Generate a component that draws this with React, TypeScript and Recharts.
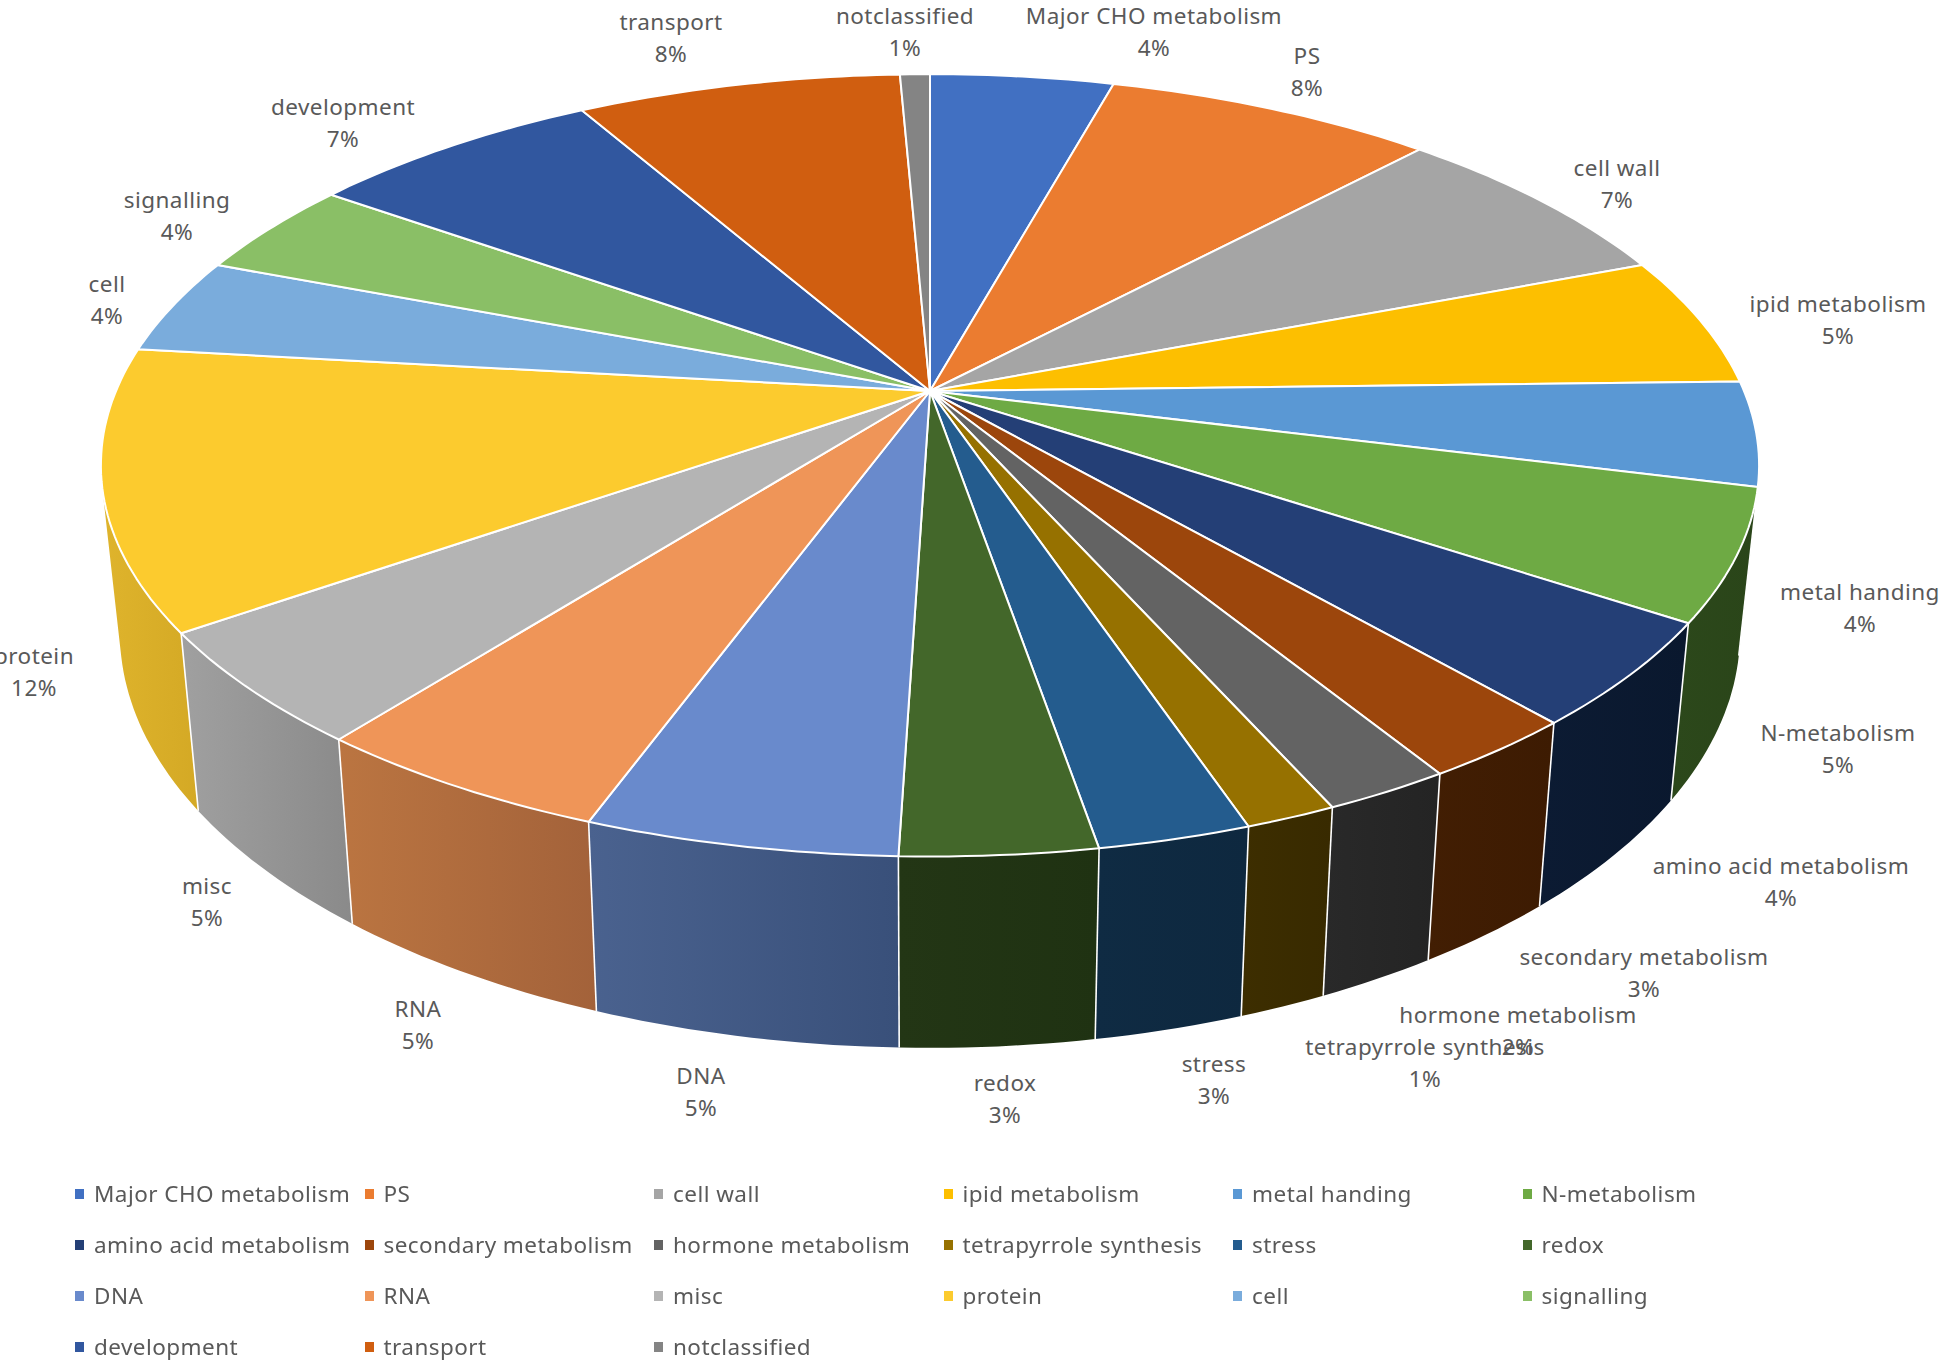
import { PieChart, Pie, Legend } from 'recharts'

const categories = [
  'Major CHO metabolism', 'PS', 'cell wall', 'ipid metabolism', 'metal handing', 'N-metabolism',
  'amino acid metabolism', 'secondary metabolism', 'hormone metabolism', 'tetrapyrrole synthesis', 'stress', 'redox',
  'DNA', 'RNA', 'misc', 'protein', 'cell', 'signalling',
  'development', 'transport', 'notclassified',
]

// slice shares, percent
const shares = [4.3, 7.7, 7.2, 5.4, 4.3, 5.4, 4.3, 2.6, 2.1, 1.5, 2.5, 3.2, 5.1, 5.0, 4.7, 11.5, 4.0, 4.0, 6.9, 7.6, 0.7]

// the percentages as printed on the data labels
const printedPercents = [4, 8, 7, 5, 4, 5, 4, 3, 2, 1, 3, 3, 5, 5, 5, 12, 4, 4, 7, 8, 1]

const topColors = [
  '#4170c2', '#eb7c30', '#a5a5a5', '#fdbf00', '#5a98d4', '#6eaa44',
  '#243f76', '#9c460c', '#636363', '#967100', '#245c8e', '#43672a',
  '#698acc', '#ef9558', '#b4b4b4', '#fccb2e', '#7aacdc', '#8abf66',
  '#31579f', '#d05e10', '#848484',
]

const wallStart = [
  '#2a4578', '#8e4b1e', '#636363', '#997300', '#2c481b', '#2c481b',
  '#0c1b33', '#421e03', '#292929', '#3d2e00', '#0f2b43', '#233615',
  '#4a628f', '#bb7541', '#a0a0a0', '#dfb42c', '#4a6985', '#54743e',
  '#1f3661', '#7e3a0b', '#4f4f4f',
]

const wallEnd = [
  '#2a4578', '#8e4b1e', '#636363', '#997300', '#2c481b', '#2a4519',
  '#0a182e', '#3d1b02', '#242424', '#382a00', '#0e283f', '#1f3212',
  '#39507a', '#a3623a', '#8a8a8a', '#d4a925', '#4a6985', '#54743e',
  '#1f3661', '#7e3a0b', '#4f4f4f',
]

// data label anchors, Excel placed these by hand so they are not on a radius
const labelSpots = [
  [1154, 16], [1307, 56], [1617, 168], [1838, 304], [1860, 592], [1838, 733],
  [1781, 866], [1644, 957], [1518, 1015], [1425, 1047], [1214, 1064], [1005, 1083],
  [701, 1076], [418, 1009], [207, 886], [34, 656], [107, 284], [177, 200],
  [343, 107], [671, 22], [905, 16],
]

const chartData = categories.map((name, i) => ({ name, value: shares[i], fill: topColors[i] }))

const FONT = '"Noto Sans", sans-serif'
const FONT_SIZE = 22.5
const TEXT = '#595959'

// Perspective of the tilted disc: the apex sits above the middle of the ellipse
const TILT = 0.19
const FLATTEN = 0.4632
const FLOOR_X = 0.977
const FLOOR_DROP = 163
const FLOOR_Y = 0.4914

function rimPoint(deg: number, cx: number, cy: number, r: number, floor: boolean) {
  const rad = (deg * Math.PI) / 180
  const x = Math.cos(rad)
  const y = -Math.sin(rad)
  const w = 1 - TILT * y
  const u = x / w
  const v = y / w
  if (floor) return [cx + FLOOR_X * r * u, cy + FLOOR_DROP + FLOOR_Y * r * v]
  return [cx + r * u, cy + FLATTEN * r * v]
}

function arcPoints(p: any, floor: boolean) {
  const pts: number[][] = []
  const steps = Math.max(2, Math.ceil(Math.abs(p.endAngle - p.startAngle)))
  for (let s = 0; s <= steps; s++) {
    const deg = p.startAngle + ((p.endAngle - p.startAngle) * s) / steps
    pts.push(rimPoint(deg, p.cx, p.cy, p.outerRadius, floor))
  }
  return pts
}

const toPath = (pts: number[][]) => pts.map((q, i) => `${i ? 'L' : 'M'}${q[0].toFixed(1)},${q[1].toFixed(1)}`).join(' ')

function TopFace(p: any) {
  const d = `M${p.cx},${p.cy} ${toPath(arcPoints(p, false)).replace('M', 'L')} Z`
  return <path d={d} fill={p.fill} stroke="#fff" strokeWidth={2} strokeLinejoin="round" />
}

// The wall is a strip of small quads so the silhouette stays a straight tangent at the sides
function wallStrip(top: number[][], floor: number[][]) {
  const parts: string[] = []
  for (let s = 0; s < top.length - 1; s++) {
    const quad = [top[s], top[s + 1], floor[s + 1], floor[s]]
    let area = 0
    quad.forEach((q, i) => {
      const n = quad[(i + 1) % 4]
      area += q[0] * n[1] - n[0] * q[1]
    })
    parts.push(`${toPath(area < 0 ? [...quad].reverse() : quad)} Z`)
  }
  return parts.join(' ')
}

function WallFace(p: any) {
  const top = arcPoints(p, false)
  const floor = arcPoints(p, true)
  const i = p.index ?? categories.indexOf(p.name)
  const id = `wall-${i}`
  return (
    <g>
      <defs>
        <linearGradient id={id} x1="0" y1="0" x2="1" y2="0">
          <stop offset="0%" stopColor={wallStart[i]} />
          <stop offset="100%" stopColor={wallEnd[i]} />
        </linearGradient>
      </defs>
      <path d={wallStrip(top, floor)} fill={`url(#${id})`} fillRule="nonzero" />
      <path d={toPath([top[0], floor[0]])} stroke="#fff" strokeWidth={1.6} fill="none" />
    </g>
  )
}

function SliceLabel(p: any) {
  const i = p.index
  const [x, y] = labelSpots[i]
  return (
    <text x={x} textAnchor="middle" fontFamily={FONT} fontSize={FONT_SIZE} letterSpacing={0.45} fill={TEXT}>
      <tspan x={x} y={y + 8}>{categories[i]}</tspan>
      <tspan x={x} y={y + 40}>{`${printedPercents[i]}%`}</tspan>
    </text>
  )
}

function GridLegend({ payload }: any) {
  const items = (payload || []).filter((e: any) => e.type !== 'none')
  return (
    <div style={{ display: 'grid', gridTemplateColumns: 'repeat(6, 289.5px)', gridAutoRows: '51px', fontFamily: FONT, fontSize: FONT_SIZE, letterSpacing: 0.45, color: TEXT }}>
      {items.map((e: any) => (
        <div key={e.value} style={{ display: 'flex', alignItems: 'center', height: 51, whiteSpace: 'nowrap' }}>
          <span style={{ width: 9, height: 10, background: e.color, marginRight: 10, flex: 'none' }} />
          {e.value}
        </div>
      ))}
    </div>
  )
}

export default function App() {
  return (
    <div style={{ position: 'absolute', left: 0, top: 0, width: 1946, height: 1368, background: '#fff', filter: 'blur(0.6px)' }}>
      <PieChart width={1946} height={1368} margin={{ top: 0, right: 0, bottom: 0, left: 0 }}>
        <Pie
          data={chartData}
          dataKey="value"
          nameKey="name"
          cx={930}
          cy={391}
          outerRadius={814}
          startAngle={90}
          endAngle={-270}
          legendType="none"
          isAnimationActive={false}
          shape={WallFace}
        />
        <Pie
          data={chartData}
          dataKey="value"
          nameKey="name"
          cx={930}
          cy={391}
          outerRadius={814}
          startAngle={90}
          endAngle={-270}
          legendType="square"
          isAnimationActive={false}
          shape={TopFace}
          label={SliceLabel}
          labelLine={false}
        />
        <Legend
          content={GridLegend}
          verticalAlign="bottom"
          itemSorter={null}
          wrapperStyle={{ position: 'absolute', left: 75, top: 1168, bottom: 'auto', width: 1800 }}
        />
      </PieChart>
    </div>
  )
}
